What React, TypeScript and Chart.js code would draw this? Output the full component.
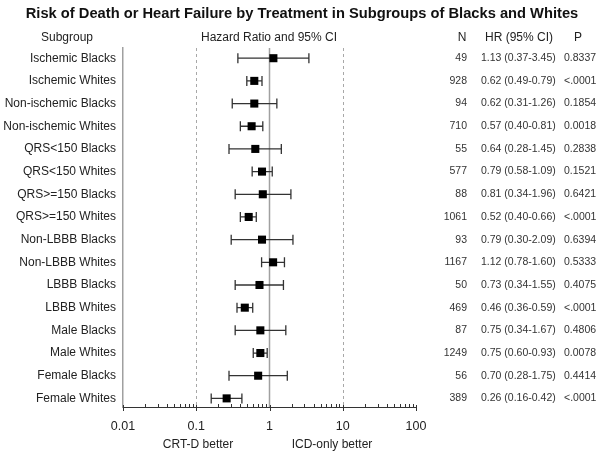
import React, { useEffect, useRef } from 'react';
import { Chart, registerables } from 'chart.js';

Chart.register(...registerables);

const TITLE = 'Risk of Death or Heart Failure by Treatment in Subgroups of Blacks and Whites';
const subgroups = [
  'Ischemic Blacks', 'Ischemic Whites', 'Non-ischemic Blacks', 'Non-ischemic Whites',
  'QRS<150 Blacks', 'QRS<150 Whites', 'QRS>=150 Blacks', 'QRS>=150 Whites',
  'Non-LBBB Blacks', 'Non-LBBB Whites', 'LBBB Blacks', 'LBBB Whites',
  'Male Blacks', 'Male Whites', 'Female Blacks', 'Female Whites',
];
const hr = [1.13, 0.62, 0.62, 0.57, 0.64, 0.79, 0.81, 0.52, 0.79, 1.12, 0.73, 0.46, 0.75, 0.75, 0.70, 0.26];
const ciLow = [0.37, 0.49, 0.31, 0.40, 0.28, 0.58, 0.34, 0.40, 0.30, 0.78, 0.34, 0.36, 0.34, 0.60, 0.28, 0.16];
const ciHigh = [3.45, 0.79, 1.26, 0.81, 1.45, 1.09, 1.96, 0.66, 2.09, 1.60, 1.55, 0.59, 1.67, 0.93, 1.75, 0.42];
const nCounts = [49, 928, 94, 710, 55, 577, 88, 1061, 93, 1167, 50, 469, 87, 1249, 56, 389];
const pValues = ['0.8337', '<.0001', '0.1854', '0.0018', '0.2838', '0.1521', '0.6421', '<.0001', '0.6394', '0.5333', '0.4075', '<.0001', '0.4806', '0.0078', '0.4414', '<.0001'];
const xTickValues = [0.01, 0.1, 1, 10, 100];
const xTickLabels = ['0.01', '0.1', '1', '10', '100'];
const minorMultipliers = [2, 3, 4, 5, 6, 7, 8, 9];
const dashedRefs = [0.1, 10];
const solidRef = 1;

const FONT = 'Arial, "Liberation Sans", sans-serif';

const forestPlugin = {
  id: 'forest',
  beforeDatasetsDraw(chart: any) {
    const { ctx, chartArea } = chart;
    const xs = chart.scales.x;
    const ys = chart.scales.y;
    ctx.save();
    ctx.strokeStyle = '#a8a8a8';
    ctx.lineWidth = 1;
    ctx.setLineDash([3, 3]);
    dashedRefs.forEach((v) => {
      const px = Math.round(xs.getPixelForValue(v)) + 0.5;
      ctx.beginPath();
      ctx.moveTo(px, chartArea.top);
      ctx.lineTo(px, chartArea.bottom);
      ctx.stroke();
    });
    ctx.setLineDash([]);
    ctx.strokeStyle = '#a0a0a0';
    ctx.lineWidth = 1.5;
    const p1 = xs.getPixelForValue(solidRef);
    ctx.beginPath();
    ctx.moveTo(p1, chartArea.top);
    ctx.lineTo(p1, chartArea.bottom);
    ctx.stroke();
    ctx.strokeStyle = '#333';
    ctx.lineWidth = 1.3;
    hr.forEach((_, i) => {
      const y = ys.getPixelForValue(i);
      const xl = xs.getPixelForValue(ciLow[i]);
      const xh = xs.getPixelForValue(ciHigh[i]);
      ctx.beginPath();
      ctx.moveTo(xl, y);
      ctx.lineTo(xh, y);
      ctx.moveTo(xl, y - 5);
      ctx.lineTo(xl, y + 5);
      ctx.moveTo(xh, y - 5);
      ctx.lineTo(xh, y + 5);
      ctx.stroke();
    });
    ctx.restore();
  },
  afterDraw(chart: any) {
    const { ctx, chartArea } = chart;
    const xs = chart.scales.x;
    const ys = chart.scales.y;
    ctx.save();
    const ay = chartArea.bottom;
    ctx.strokeStyle = '#333';
    ctx.lineWidth = 1;
    xTickValues.forEach((v, k) => {
      const px = Math.round(xs.getPixelForValue(v)) + 0.5;
      ctx.beginPath();
      ctx.moveTo(px, ay - 2);
      ctx.lineTo(px, ay + 4);
      ctx.stroke();
      if (k < xTickValues.length - 1) {
        minorMultipliers.forEach((m) => {
          const mx = Math.round(xs.getPixelForValue(v * m)) + 0.5;
          ctx.beginPath();
          ctx.moveTo(mx, ay - 3);
          ctx.lineTo(mx, ay);
          ctx.stroke();
        });
      }
    });
    ctx.fillStyle = '#111';
    ctx.textBaseline = 'middle';
    ctx.textAlign = 'center';
    ctx.font = `bold 14.7px ${FONT}`;
    ctx.fillText(TITLE, 302, 14);
    ctx.font = `12px ${FONT}`;
    ctx.fillStyle = '#222';
    ctx.fillText('Subgroup', 67, 38);
    ctx.fillText('Hazard Ratio and 95% CI', 269, 38);
    ctx.fillText('N', 462, 38);
    ctx.fillText('HR (95% CI)', 519, 38);
    ctx.fillText('P', 578, 38);
    ctx.font = `10.5px ${FONT}`;
    ctx.fillStyle = '#333';
    hr.forEach((h, i) => {
      const y = ys.getPixelForValue(i);
      ctx.textAlign = 'right';
      ctx.fillText(String(nCounts[i]), 467, y);
      ctx.textAlign = 'left';
      ctx.fillText(`${h.toFixed(2)} (${ciLow[i].toFixed(2)}-${ciHigh[i].toFixed(2)})`, 481, y);
      ctx.fillText(pValues[i], 564, y);
    });
    ctx.font = `12px ${FONT}`;
    ctx.fillStyle = '#222';
    ctx.textAlign = 'center';
    ctx.fillText('CRT-D better', 198, 445);
    ctx.fillText('ICD-only better', 332, 445);
    ctx.restore();
  },
};

export default function App() {
  const ref = useRef<HTMLCanvasElement | null>(null);
  useEffect(() => {
    document.body.style.margin = '0';
    const canvas = ref.current;
    if (!canvas) return;
    const chart = new Chart(canvas, {
      type: 'scatter',
      data: {
        datasets: [
          {
            data: hr.map((v, i) => ({ x: v, y: i })),
            pointStyle: 'rect',
            pointRadius: 5.7,
            pointHoverRadius: 5.7,
            backgroundColor: '#000',
            borderColor: '#000',
            borderWidth: 0,
          },
        ],
      },
      options: {
        animation: false,
        responsive: true,
        maintainAspectRatio: false,
        events: [],
        layout: { padding: { top: 48, left: 0, right: 184, bottom: 0 } },
        plugins: { legend: { display: false }, tooltip: { enabled: false }, title: { display: false } },
        scales: {
          x: {
            type: 'logarithmic',
            min: 0.01,
            max: 100,
            afterBuildTicks: (s: any) => {
              s.ticks = xTickValues.map((v) => ({ value: v }));
            },
            afterFit: (s: any) => {
              s.height = 51;
            },
            ticks: {
              autoSkip: false,
              maxRotation: 0,
              padding: 12,
              color: '#222',
              font: { family: FONT, size: 12.5 },
              callback: (v: any) => xTickLabels[xTickValues.indexOf(Number(v))] ?? '',
            },
            grid: { display: false, drawTicks: false },
            border: { display: true, color: '#333', width: 1 },
          },
          y: {
            type: 'linear',
            reverse: true,
            min: -0.45,
            max: 15.38,
            afterBuildTicks: (s: any) => {
              s.ticks = subgroups.map((_, i) => ({ value: i }));
            },
            afterFit: (s: any) => {
              s.width = 123;
            },
            ticks: {
              autoSkip: false,
              padding: 7,
              color: '#222',
              font: { family: FONT, size: 12 },
              callback: (v: any) => subgroups[Number(v)] ?? '',
            },
            grid: { display: false, drawTicks: false },
            border: { display: true, color: '#a0a0a0', width: 1.5 },
          },
        },
      },
      plugins: [forestPlugin],
    });
    return () => chart.destroy();
  }, []);
  return (
    <div style={{ position: 'absolute', left: 0, top: 0, width: 600, height: 458 }}>
      <canvas ref={ref} />
    </div>
  );
}
